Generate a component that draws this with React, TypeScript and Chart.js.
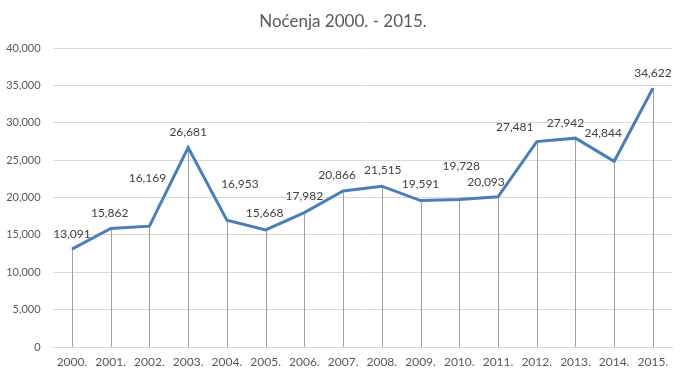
import React, { useEffect, useRef } from "react";
import { Chart, registerables } from "chart.js";

Chart.register(...registerables);

const categories = ["2000.", "2001.", "2002.", "2003.", "2004.", "2005.", "2006.", "2007.", "2008.", "2009.", "2010.", "2011.", "2012.", "2013.", "2014.", "2015."];
const nocenja = [13091, 15862, 16169, 26681, 16953, 15668, 17982, 20866, 21515, 19591, 19728, 20093, 27481, 27942, 24844, 34622];
const yTicks = [0, 5000, 10000, 15000, 20000, 25000, 30000, 35000, 40000];
const title = "Noćenja 2000. - 2015.";
// label offsets (dx, dy) relative to each point, as placed in the reference
const labelOffsets: [number, number][] = [
  [0, -15], [-1, -15], [-2, -48], [0, -15], [13, -36], [-1, -17], [0, -16], [-6, -16],
  [1, -16], [0, -16], [2, -33], [-12, -15], [-22, -14], [-10, -15], [-11, -28], [0, -15],
];

const FONT = "Lato, 'Open Sans', sans-serif";

const fmt = (v: number) => v.toLocaleString("en-US");

const dropLines = {
  id: "dropLines",
  beforeDatasetsDraw(chart: any) {
    const { ctx, chartArea } = chart;
    const meta = chart.getDatasetMeta(0);
    ctx.save();
    ctx.strokeStyle = "#9f9f9f";
    ctx.lineWidth = 1;
    meta.data.forEach((pt: any) => {
      const x = Math.round(pt.x) + 0.5;
      ctx.beginPath();
      ctx.moveTo(x, pt.y);
      ctx.lineTo(x, chartArea.bottom);
      ctx.stroke();
    });
    ctx.restore();
  },
};

const dataLabels = {
  id: "dataLabels",
  afterDatasetsDraw(chart: any) {
    const { ctx } = chart;
    const meta = chart.getDatasetMeta(0);
    ctx.save();
    ctx.fillStyle = "#404040";
    ctx.font = `12px ${FONT}`;
    ctx.textAlign = "center";
    ctx.textBaseline = "middle";
    meta.data.forEach((pt: any, i: number) => {
      const [dx, dy] = labelOffsets[i];
      ctx.fillText(fmt(nocenja[i]), pt.x + dx, pt.y + dy);
    });
    ctx.restore();
  },
};

const titlePlugin = {
  id: "titleText",
  afterDraw(chart: any) {
    const { ctx } = chart;
    ctx.save();
    ctx.fillStyle = "#595959";
    ctx.font = `17px ${FONT}`;
    ctx.textAlign = "center";
    ctx.textBaseline = "middle";
    ctx.fillText(title, 343, 22);
    ctx.restore();
  },
};

export default function App() {
  const ref = useRef<HTMLCanvasElement | null>(null);
  useEffect(() => {
    if (!ref.current) return;
    const chart = new Chart(ref.current, {
      type: "line",
      data: {
        labels: categories,
        datasets: [
          {
            data: nocenja,
            borderColor: "#4a7ebb",
            borderWidth: 3,
            pointRadius: 0,
            tension: 0,
            fill: false,
          },
        ],
      },
      options: {
        animation: false,
        responsive: false,
        maintainAspectRatio: false,
        layout: { padding: { left: 0, right: 12.7, top: 48, bottom: 0 } },
        plugins: { legend: { display: false }, tooltip: { enabled: false }, title: { display: false } },
        scales: {
          x: {
            offset: true,
            grid: { display: false, drawTicks: false },
            border: { display: true, color: "#d9d9d9" },
            ticks: { color: "#595959", font: { family: FONT, size: 12 }, padding: 8, maxRotation: 0, autoSkip: false },
            afterFit: (s: any) => { s.height = 34; },
          },
          y: {
            min: 0,
            max: 40000,
            afterBuildTicks: (s: any) => { s.ticks = yTicks.map((v) => ({ value: v })); },
            grid: { color: "#d9d9d9", drawTicks: false },
            border: { display: false },
            ticks: { color: "#595959", font: { family: FONT, size: 11 }, padding: 12, callback: (v: any) => fmt(Number(v)) },
            afterFit: (s: any) => { s.width = 52.6; },
          },
        },
      },
      plugins: [dropLines, dataLabels, titlePlugin],
    });
    return () => chart.destroy();
  }, []);
  return (
    <div style={{ position: "absolute", left: 0, top: 0, width: 685, height: 381, background: "#fff" }}>
      <canvas ref={ref} width={685} height={381} style={{ width: 685, height: 381 }} />
    </div>
  );
}
